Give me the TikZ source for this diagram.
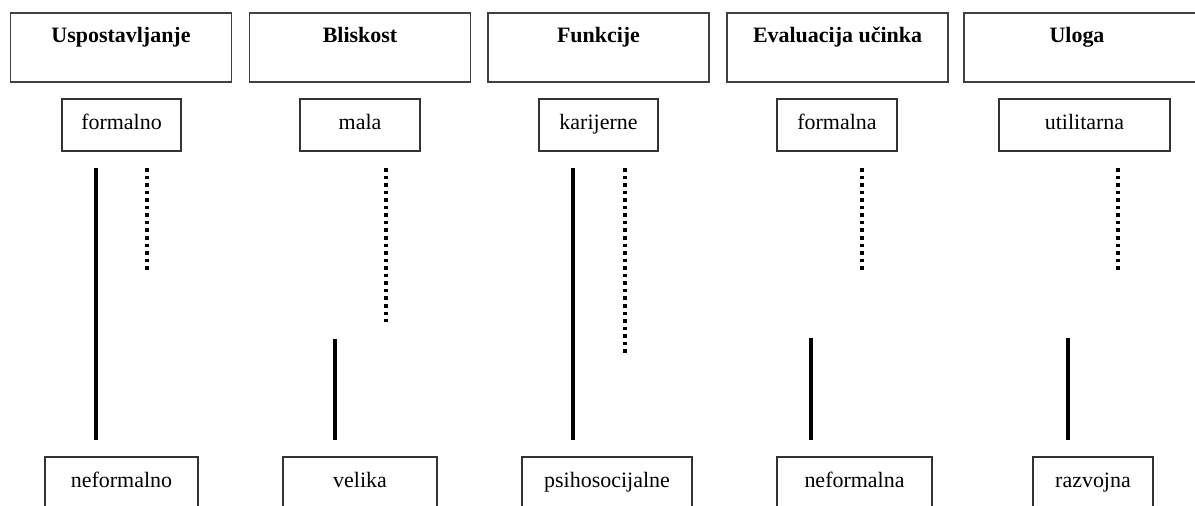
\documentclass[tikz,border=0pt]{standalone}
\usepackage{fontspec}
\setmainfont{Liberation Serif}
\begin{document}
\begin{tikzpicture}[x=0.02cm,y=-0.02cm,
        head/.style = {draw=black!75, line width=0.8pt, minimum width=4.42cm, minimum height=1.38cm, inner sep=0pt},
        headtxt/.style = {anchor=base, inner sep=0pt, font=\fontsize{12.5}{15}\selectfont\bfseries},
        val/.style = {draw=black!80, line width=0.8pt, minimum height=1.04cm, inner sep=0pt, text height=1.6ex, text depth=0.4ex, font=\fontsize{12.5}{15}\selectfont},
        bar/.style = {line width=2pt},
        dotbar/.style = {line width=2pt, dash pattern=on 2pt off 2.3pt}]
        \useasboundingbox (0,0) rectangle (1195,506);
        % headings
        \node[head] (h1) at (121,47.5) {};
        \node[head] (h2) at (360,47.5) {};
        \node[head] (h3) at (598.5,47.5) {};
        \node[head] (h4) at (837.5,47.5) {};
        \node[head, minimum width=4.72cm] (h5) at (1082,47.5) {};
        \node[headtxt] (t1) at (121,42.5) {Uspostavljanje};
        \node[headtxt] (t2) at (360,42.5) {Bliskost};
        \node[headtxt] (t3) at (598.5,42.5) {Funkcije};
        \node[headtxt] (t4) at (837.5,42.5) {Evaluacija učinka};
        \node[headtxt] (t5) at (1077,42.5) {Uloga};
        % upper ends
        \node[val, minimum width=2.38cm] (f1) at (121.5,125) {formalno};
        \node[val, minimum width=2.40cm] (f2) at (360,125) {mala};
        \node[val, minimum width=2.38cm] (f3) at (598.5,125) {karijerne};
        \node[val, minimum width=2.40cm] (f4) at (837,125) {formalna};
        \node[val, minimum width=3.42cm] (f5) at (1084.5,125) {utilitarna};
        % lower ends
        \node[val, minimum width=3.06cm] (n1) at (121.5,483) {neformalno};
        \node[val, minimum width=3.08cm] (n2) at (360,483) {velika};
        \node[val, minimum width=3.40cm] (n3) at (607,483) {psihosocijalne};
        \node[val, minimum width=3.10cm] (n4) at (854.5,483) {neformalna};
        \node[val, minimum width=2.40cm] (n5) at (1093,483) {razvojna};
        % bars
        \draw[bar] (96,168) -- (96,440);
        \draw[dotbar] (147,168) -- (147,270);
        \draw[dotbar] (386,168) -- (386,322);
        \draw[bar] (335,339) -- (335,440);
        \draw[bar] (573,168) -- (573,440);
        \draw[dotbar] (625,168) -- (625,354);
        \draw[dotbar] (862,168) -- (862,270);
        \draw[bar] (811,338) -- (811,440);
        \draw[dotbar] (1118,168) -- (1118,270);
        \draw[bar] (1068,338) -- (1068,440);
\end{tikzpicture}
\end{document}
